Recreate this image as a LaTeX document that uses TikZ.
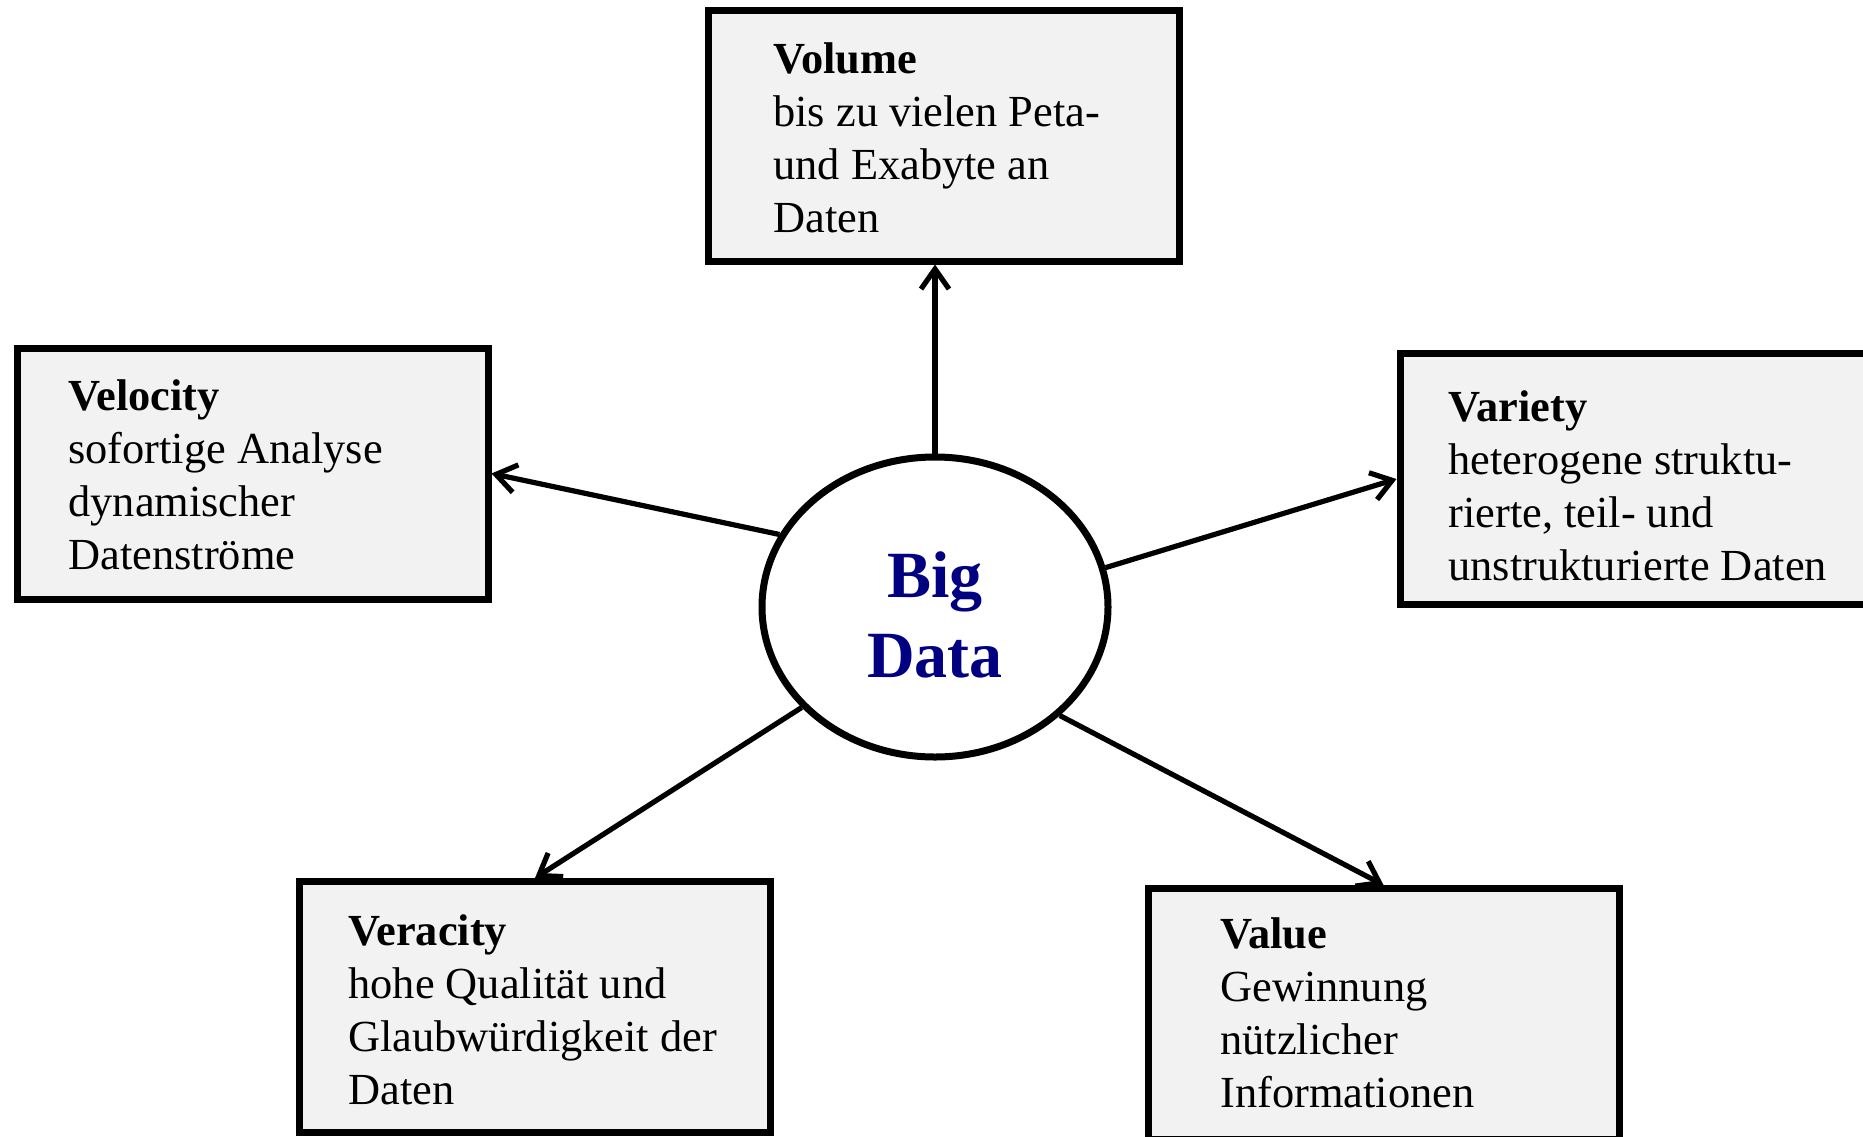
\documentclass[tikz,border=0pt]{standalone}
\usepackage{fontspec}
\setmainfont{Liberation Serif}
\usetikzlibrary{shapes.geometric,arrows.meta}
\definecolor{boxgray}{HTML}{F2F2F2}
\definecolor{bdblue}{RGB}{0,0,128}

\begin{document}
\begin{tikzpicture}[x=0.5pt, y=-0.5pt,
    vbox/.style={draw, line width=3.5pt, fill=boxgray, minimum width=235.5pt, minimum height=125.5pt, inner sep=0pt},
    vtext/.style={anchor=base west, align=left, inner sep=0pt, font=\fontsize{22.2}{26.5}\selectfont},
    hub/.style={draw, ellipse, line width=3.5pt, minimum width=173pt, minimum height=150pt, inner sep=0pt},
    arr/.style={line width=2.6pt, -{Straight Barb[length=10pt,width=14pt]}}]
    \useasboundingbox (0,0) rectangle (1863,1136);
    \node [hub] (bigdata) at (935,607) {};
    \node [anchor=base, align=center, inner sep=0pt, text=bdblue, font=\fontsize{33}{40}\selectfont\bfseries] (bigdatatxt) at (935,677) {Big\\Data};
    \node [vbox] (volume) at (943.5,135.5) {};
    \node [vbox] (velocity) at (252.5,473.5) {};
    \node [vbox] (variety) at (1635.5,479) {};
    \node [vbox] (veracity) at (535,1007) {};
    \node [vbox] (value) at (1383.5,1014) {};
    \node [vtext] (volumetxt) at (773,232) {\textbf{Volume}\\bis zu vielen Peta-\\und Exabyte an\\Daten};
    \node [vtext] (velocitytxt) at (68,569) {\textbf{Velocity}\\sofortige Analyse\\dynamischer\\Datenströme};
    \node [vtext] (varietytxt) at (1448,580) {\textbf{Variety}\\heterogene struktu-\\rierte, teil- und\\unstrukturierte Daten};
    \node [vtext] (veracitytxt) at (348,1104) {\textbf{Veracity}\\hohe Qualität und\\Glaubwürdigkeit der\\Daten};
    \node [vtext] (valuetxt) at (1220,1107) {\textbf{Value}\\Gewinnung\\nützlicher\\Informationen};
    \draw [arr] (bigdata.north) -- (bigdata.north |- volume.south);
    \draw [arr] (bigdata.155) -- (velocity.east);
    \draw [arr] (bigdata.13) -- (variety.west);
    \draw [arr] (bigdata.217) -- (veracity.north);
    \draw [arr] (bigdata.319) -- (value.north);
\end{tikzpicture}
\end{document}
